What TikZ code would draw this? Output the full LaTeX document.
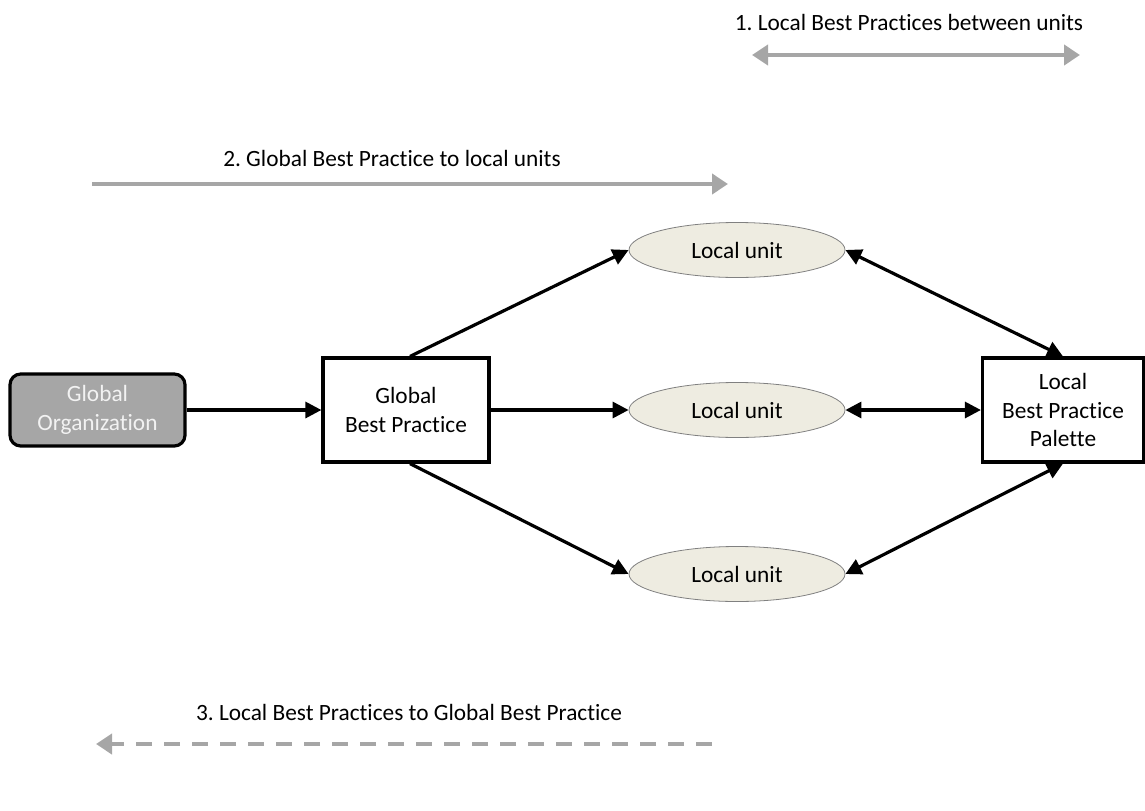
\documentclass[tikz,border=0pt]{standalone}
\usepackage{fontspec}
\setmainfont{Carlito}[Ligatures={NoCommon,NoRare}]
\frenchspacing
\usetikzlibrary{arrows.meta,shapes.geometric}
\definecolor{arrgray}{HTML}{A6A6A6}
\definecolor{unitfill}{HTML}{EEECE1}
\definecolor{orgfill}{HTML}{A6A6A6}
\definecolor{orgtext}{HTML}{F2F2F2}
\begin{document}
\begin{tikzpicture}[x=0.75pt,y=-0.75pt,
  every node/.style={font=\fontsize{17.5}{21.5}\selectfont, align=center, inner sep=0pt},
  orgbox/.style={draw=black, line width=2.4pt, fill=orgfill, text=orgtext, rounded corners=8pt, minimum width=131.25pt, minimum height=54pt},
  practicebox/.style={draw=black, line width=2.4pt, fill=white, minimum width=124.5pt, minimum height=78pt},
  unitnode/.style={ellipse, draw=gray, line width=0.6pt, fill=unitfill, minimum width=162pt, minimum height=41.25pt},
  flow/.style={line width=2.4pt, -{Triangle[length=12pt,width=12pt]}},
  bflow/.style={line width=2.4pt, {Triangle[length=12pt,width=12pt]}-{Triangle[length=12pt,width=12pt]}},
  guide/.style={line width=3pt, draw=arrgray}
]
\useasboundingbox (0,0) rectangle (1145,810);

% main nodes
\node[orgbox] (go) at (97.5,410) {Global\\Organization};
\node[practicebox] (gbp) at (406,410) {Global\\Best Practice};
\node[practicebox, minimum width=120.75pt] (lbp) at (1063,410) {Local\\Best Practice\\Palette};
\node[unitnode] (u1) at (737,250) {Local unit};
\node[unitnode] (u2) at (737,410) {Local unit};
\node[unitnode] (u3) at (737,574) {Local unit};

% connectors
\draw[flow] (go.east) -- (gbp.west);
\draw[flow] (gbp.east) -- (u2.west);
\draw[flow] ([xshift=3pt]gbp.north) -- (u1.west);
\draw[flow] ([xshift=3pt]gbp.south) -- (u3.west);
\draw[bflow] (u1.east) -- (lbp.north);
\draw[bflow] (u2.east) -- (lbp.west);
\draw[bflow] (u3.east) -- (lbp.south);

% legend arrows
\node (t1) at (909,22) {1. Local Best Practices between units};
\coordinate (a1s) at (752,55);
\coordinate (a1e) at (1080,55);
\draw[guide, {Triangle[length=12pt,width=15pt]}-{Triangle[length=12pt,width=15pt]}] (a1s) -- (a1e);

\node (t2) at (392,158) {2. Global Best Practice to local units};
\coordinate (a2s) at (92,184);
\coordinate (a2e) at (728,184);
\draw[guide, -{Triangle[length=12pt,width=15pt]}] (a2s) -- (a2e);

\node (t3) at (409,712) {3. Local Best Practices to Global Best Practice};
\coordinate (a3s) at (712,744);
\coordinate (a3e) at (96,744);
\draw[guide, dash pattern=on 12pt off 9pt, -{Triangle[length=12pt,width=15pt]}] (a3s) -- (a3e);
\end{tikzpicture}
\end{document}
